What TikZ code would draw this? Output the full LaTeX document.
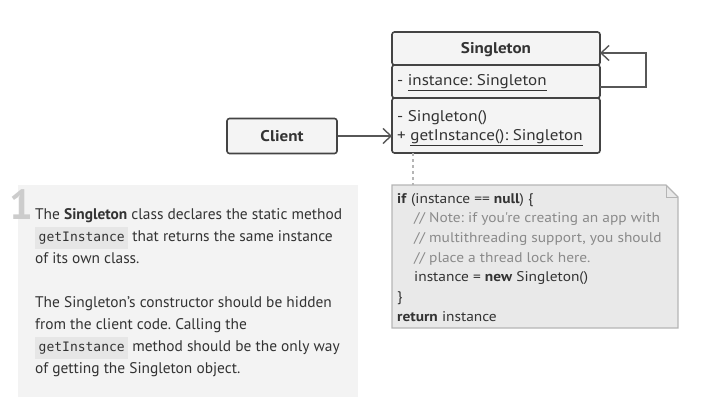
\documentclass[tikz,border=0pt]{standalone}
\usepackage{fontspec}
\setmainfont{PT Sans}
\setmonofont{DejaVu Sans Mono}
\newfontfamily\diagfont[FakeStretch=1.1]{PT Sans}
\usepackage{xcolor}
\usetikzlibrary{arrows.meta,positioning}
\frenchspacing

\definecolor{umlline}{HTML}{444444}
\definecolor{umlfill}{HTML}{F4F4F4}
\definecolor{notefill}{HTML}{E9E9E9}
\definecolor{noteline}{HTML}{B5B5B5}
\definecolor{panelfill}{HTML}{F3F3F3}
\definecolor{codebg}{HTML}{E6E6E6}
\definecolor{txt}{HTML}{333333}
\definecolor{comment}{HTML}{8A8A8A}

\newcommand{\codespan}[1]{{\setlength\fboxsep{3.5pt}\colorbox{codebg}{\ttfamily\fontsize{13}{15}\selectfont\strut #1}}}
\newcommand{\cmt}[1]{\textcolor{comment}{#1}}

\begin{document}
\begin{tikzpicture}[x=1pt,y=-1pt]
\tikzset{umlbox/.style = {draw=umlline,fill=umlfill,line width=1.6pt,rounded corners=2.5pt}}
\tikzset{edge/.style = {->,draw=umlline!90,line width=1.4pt,> = {Straight Barb[length=8pt,width=15pt,line width=1.4pt]}}}
\tikzset{umltext/.style = {text=txt,font=\diagfont\fontsize{15.5}{17}\selectfont,inner sep=0pt}}
\useasboundingbox (0,0) rectangle (701,415);
% left panel
\fill[panelfill] (18,185) rectangle (358,397);
\node[text=black!20,font=\bfseries\fontsize{42}{42}\selectfont,inner sep=0pt,anchor=base west] (num) at (9,219) {1};
\node[text=txt,font=\fontsize{15.4}{22}\selectfont,align=left,inner sep=0pt,anchor=north west] (desc) at (35,208)
  {The \textbf{Singleton} class declares the static method\\
   \codespan{getInstance} that returns the same instance\\
   of its own class.\\[22pt]
   The Singleton’s constructor should be hidden\\
   from the client code. Calling the\\
   \codespan{getInstance} method should be the only way\\
   of getting the Singleton object.};
% classes
\draw[umlbox] (392,32) rectangle (600,65);
\draw[umlbox] (392,65) rectangle (600,98);
\draw[umlbox] (392,98) rectangle (600,153);
\node[umltext,font=\diagfont\bfseries\fontsize{15.5}{17}\selectfont] (sname) at (496,50) {Singleton};
\node[umltext,anchor=west] (sattr) at (397,83) {- \underline{instance: Singleton}};
\node[umltext,anchor=west] (sctor) at (397,118) {- Singleton()};
\node[umltext,anchor=west] (sget) at (397,138) {+ \underline{getInstance(): Singleton}};
\coordinate (sin) at (600,53);
\coordinate (sout) at (600,87);
\coordinate (sleft) at (392,136);
\coordinate (sbot) at (413,153);
\node[umlbox,minimum width=110pt,minimum height=35pt,font=\diagfont\bfseries\fontsize{15.5}{17}\selectfont,text=txt] (client) at (282,136) {Client};
% note
\draw[noteline,fill=notefill,line width=1.3pt] (392,185) -- (666,185) -- (678,197) -- (678,328) -- (392,328) -- cycle;
\draw[noteline,line width=1pt] (666,185) -- (666,197) -- (678,197);
\coordinate (ntop) at (413,185);
\node[text=txt,font=\diagfont\fontsize{14}{19.7}\selectfont,align=left,inner sep=0pt,anchor=north west] (code) at (397,193)
  {\textbf{if} (instance == \textbf{null}) \{\\
   \hspace*{17pt}\cmt{// Note: if you're creating an app with}\\
   \hspace*{17pt}\cmt{// multithreading support, you should}\\
   \hspace*{17pt}\cmt{// place a thread lock here.}\\
   \hspace*{17pt}instance = \textbf{new} Singleton()\\
   \}\\
   \textbf{return} instance};
% edges
\draw[edge] (client.east) -- (sleft);
\draw[edge] (sout) -- (646,87) -- (646,53) -- (sin);
\draw[noteline,line width=1.4pt,dash pattern=on 3pt off 3pt] (sbot) -- (ntop);
\end{tikzpicture}
\end{document}
